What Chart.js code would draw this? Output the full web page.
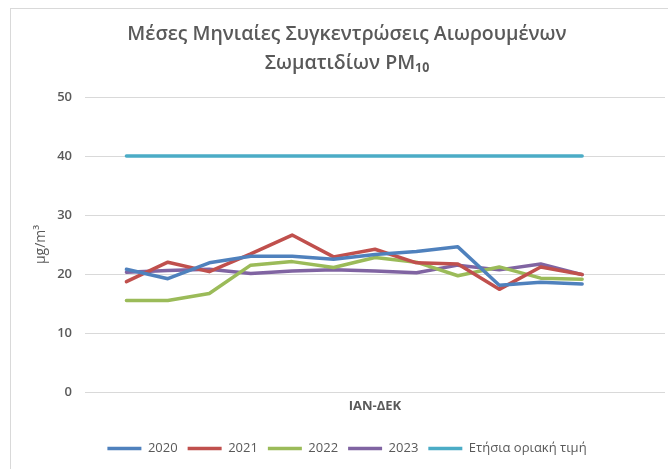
<!DOCTYPE html>
<html>
<head>
<meta charset="utf-8">
<script src="https://cdn.jsdelivr.net/npm/chart.js@4.4.1/dist/chart.umd.min.js"></script>
<style>
    html, body { margin: 0; padding: 0; background: #fff; overflow: hidden; }
    #frame {
        position: absolute;
        left: 10px;
        top: 8px;
        width: 658px;
        height: 470px;
        border: 1px solid #d9d9d9;
    }
    #frame canvas { display: block; }
</style>
</head>
<body>
<div id="frame"><canvas id="pmChart" width="658" height="470"></canvas></div>
<script>
// monthly means (μg/m3)
const months = ['Ιαν', 'Φεβ', 'Μαρ', 'Απρ', 'Μαϊ', 'Ιουν', 'Ιουλ', 'Αυγ', 'Σεπ', 'Οκτ', 'Νοε', 'Δεκ'];
const pm2020 = [20.8, 19.2, 21.9, 23.0, 23.0, 22.5, 23.3, 23.8, 24.6, 18.1, 18.6, 18.3];
const pm2021 = [18.7, 22.0, 20.4, 23.4, 26.6, 22.9, 24.2, 21.9, 21.7, 17.4, 21.2, 19.9];
const pm2022 = [15.5, 15.5, 16.7, 21.5, 22.1, 21.1, 22.8, 22.0, 19.7, 21.2, 19.3, 19.1];
const pm2023 = [20.3, 20.6, 20.8, 20.1, 20.5, 20.7, 20.5, 20.2, 21.5, 20.7, 21.7, 19.9];
const limitValue = 40;
const yTicks = [0, 10, 20, 30, 40, 50];

const gray = '#595959';
const fontFamily = '"Open Sans", "Noto Sans", sans-serif';

// Excel leaves one empty slot before January and two after December
const labels = [''].concat(months, ['', '']);
function pad(values) {
    return [null].concat(values, [null, null]);
}

function series(label, values, color) {
    return {
        label: label,
        data: pad(values),
        borderColor: color,
        backgroundColor: color,
        borderWidth: 3.5,
        pointRadius: 0,
        tension: 0,
        borderJoinStyle: 'round',
        borderCapStyle: 'round',
        fill: false
    };
}

const ctx = document.getElementById('pmChart').getContext('2d');
new Chart(ctx, {
    type: 'line',
    data: {
        labels: labels,
        datasets: [
            series('2020', pm2020, '#4F81BD'),
            series('2021', pm2021, '#C0504D'),
            series('2022', pm2022, '#9BBB59'),
            series('2023', pm2023, '#8064A2'),
            series('Ετήσια οριακή τιμή', months.map(() => limitValue), '#4BACC6')
        ]
    },
    options: {
        responsive: false,
        animation: false,
        layout: {
            padding: { left: 18, right: 4, top: 0, bottom: 14 }
        },
        scales: {
            x: {
                offset: false,
                afterFit: scale => {
                    scale.height = 40;
                },
                grid: { display: false },
                border: { display: false },
                ticks: { display: false },
                title: {
                    display: true,
                    text: 'ΙΑΝ-ΔΕΚ',
                    color: gray,
                    font: { family: fontFamily, size: 13, weight: 'bold' },
                    padding: { top: 4, bottom: 18 }
                }
            },
            y: {
                min: 0,
                max: 50,
                afterBuildTicks: scale => {
                    scale.ticks = yTicks.map(v => ({ value: v }));
                },
                afterFit: scale => {
                    scale.width = 56;
                },
                grid: { color: '#d9d9d9', lineWidth: 1, drawTicks: false },
                border: { display: false },
                ticks: {
                    padding: 13,
                    color: gray,
                    font: { family: fontFamily, size: 13, weight: '600' }
                },
                title: {
                    display: true,
                    text: 'μg/m³',
                    color: gray,
                    font: { family: fontFamily, size: 14 },
                    padding: { top: 4, bottom: 0 }
                }
            }
        },
        plugins: {
            title: {
                display: true,
                text: ['Μέσες Μηνιαίες Συγκεντρώσεις Αιωρουμένων', 'Σωματιδίων PM₁₀'],
                color: gray,
                font: { family: fontFamily, size: 19.5, weight: '600', lineHeight: 1.5 },
                padding: { top: 11, bottom: 18.5 }
            },
            legend: {
                position: 'bottom',
                labels: {
                    usePointStyle: true,
                    pointStyle: 'line',
                    pointStyleWidth: 34,
                    boxHeight: 13,
                    padding: 10,
                    color: gray,
                    font: { family: fontFamily, size: 13 }
                }
            },
            tooltip: { enabled: false }
        }
    }
});
</script>
</body>
</html>
